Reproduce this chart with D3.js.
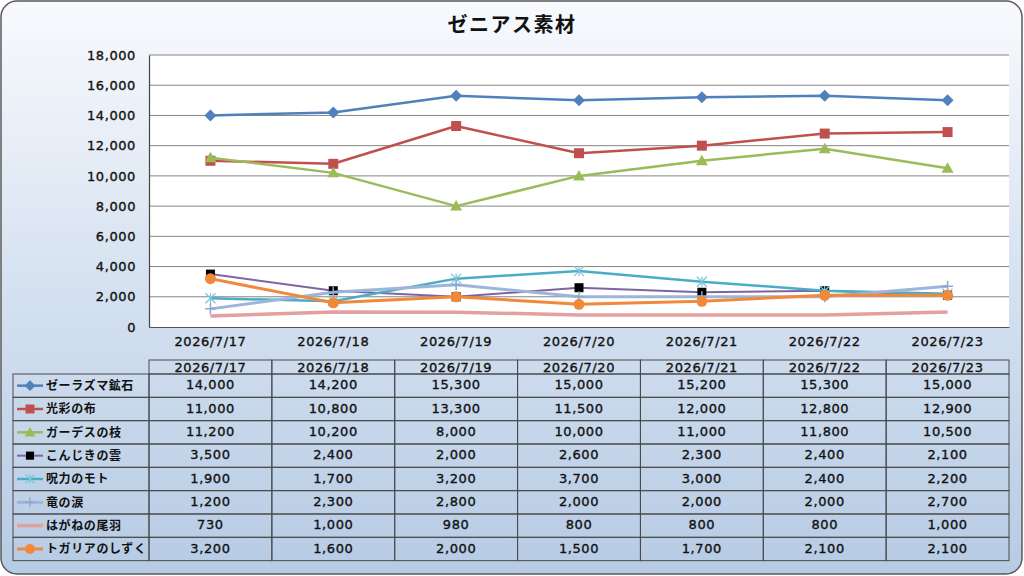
<!DOCTYPE html>
<html>
<head>
<meta charset="utf-8">
<script src="https://cdn.jsdelivr.net/npm/d3@7"></script>
<style>
  html, body { margin: 0; padding: 0; background: #ffffff; }
  svg { display: block; }
  .num { font-family: "DejaVu Sans", sans-serif; font-weight: normal; font-size: 13px; fill: #111; stroke: #111; stroke-width: 0.35px; letter-spacing: 0.6px; }
  .jp { font-family: "Noto Sans CJK JP", sans-serif; font-weight: bold; font-size: 12px; fill: #111; letter-spacing: 0.6px; }
</style>
</head>
<body>
<div id="chart"></div>
<script>
// data
const dates = ["2026/7/17", "2026/7/18", "2026/7/19", "2026/7/20", "2026/7/21", "2026/7/22", "2026/7/23"];
const seriesNames = ["ゼーラズマ鉱石", "光彩の布", "ガーデスの枝", "こんじきの雲", "呪力のモト", "竜の涙", "はがねの尾羽", "トガリアのしずく"];
const zeraOre   = [14000, 14200, 15300, 15000, 15200, 15300, 15000];
const kousaiCloth = [11000, 10800, 13300, 11500, 12000, 12800, 12900];
const gardesBranch = [11200, 10200, 8000, 10000, 11000, 11800, 10500];
const konjikiCloud = [3500, 2400, 2000, 2600, 2300, 2400, 2100];
const juryokuMoto = [1900, 1700, 3200, 3700, 3000, 2400, 2200];
const ryuTears = [1200, 2300, 2800, 2000, 2000, 2000, 2700];
const haganeFeather = [730, 1000, 980, 800, 800, 800, 1000];
const togariaDrop = [3200, 1600, 2000, 1500, 1700, 2100, 2100];
const yTicks = [0, 2000, 4000, 6000, 8000, 10000, 12000, 14000, 16000, 18000];

const seriesValues = [zeraOre, kousaiCloth, gardesBranch, konjikiCloud, juryokuMoto, ryuTears, haganeFeather, togariaDrop];

// styles per series
const styles = [
  { color: "#4f81bd", width: 2.5, marker: "diamond", mfill: "#4f81bd" },
  { color: "#c0504d", width: 2.5, marker: "square", mfill: "#c0504d" },
  { color: "#9bbb59", width: 2.5, marker: "triangle", mfill: "#9bbb59" },
  { color: "#8064a2", width: 2, marker: "blacksquare", mfill: "#000000" },
  { color: "#4bacc6", width: 2.5, marker: "asterisk", mfill: "#7fc6da" },
  { color: "#9db5d9", width: 3, marker: "plus", mfill: "#8ea9d2" },
  { color: "#e3a09e", width: 3.5, marker: "none", mfill: "none" },
  { color: "#f0893a", width: 3, marker: "circle", mfill: "#f0893a" }
];

const W = 1024, H = 576;
const plot = { left: 149, right: 1009, top: 55, bottom: 327 };

const svg = d3.select("#chart").append("svg")
  .attr("width", W).attr("height", H);

const defs = svg.append("defs");
const grad = defs.append("linearGradient")
  .attr("id", "bg").attr("x1", 0).attr("y1", 0).attr("x2", 0).attr("y2", 1);
grad.append("stop").attr("offset", "0%").attr("stop-color", "#f8fafd");
grad.append("stop").attr("offset", "55%").attr("stop-color", "#d2dfef");
grad.append("stop").attr("offset", "100%").attr("stop-color", "#b6cbe4");

svg.append("rect")
  .attr("x", 1).attr("y", 1).attr("width", 1021).attr("height", 573)
  .attr("rx", 16).attr("ry", 16)
  .attr("fill", "url(#bg)")
  .attr("stroke", "#5a5a5a").attr("stroke-width", 1.5);

// title
svg.append("text")
  .attr("x", 512).attr("y", 32)
  .attr("text-anchor", "middle")
  .style("font-family", "'Noto Sans CJK JP', sans-serif")
  .style("font-weight", "bold")
  .style("font-size", "20px")
  .style("letter-spacing", "1.5px")
  .attr("fill", "#111")
  .text("ゼニアス素材");

const x = d3.scaleBand().domain(dates).range([plot.left, plot.right]);
const y = d3.scaleLinear().domain([0, 18000]).range([plot.bottom, plot.top]);

// plot area
svg.append("rect")
  .attr("x", plot.left).attr("y", plot.top)
  .attr("width", plot.right - plot.left).attr("height", plot.bottom - plot.top)
  .attr("fill", "#ffffff");

svg.append("g")
  .selectAll("line")
  .data(yTicks.filter(d => d > 0))
  .join("line")
  .attr("x1", plot.left).attr("x2", plot.right)
  .attr("y1", d => y(d)).attr("y2", d => y(d))
  .attr("stroke", "#858585").attr("stroke-width", 1);

// y axis
const yAxis = svg.append("g")
  .attr("transform", `translate(${plot.left},0)`)
  .call(d3.axisLeft(y).tickValues(yTicks).tickFormat(d3.format(",")).tickSize(0).tickPadding(13));
yAxis.select(".domain").attr("stroke", "#444").attr("stroke-width", 1.2);
yAxis.selectAll("text").attr("class", "num").attr("fill", null);

// x axis
const xAxis = svg.append("g")
  .attr("transform", `translate(0,${plot.bottom})`)
  .call(d3.axisBottom(x).tickSize(0).tickPadding(10));
xAxis.select(".domain").attr("stroke", "#555").attr("stroke-width", 1.2);
xAxis.selectAll("text").attr("class", "num").attr("fill", null);

// marker drawing
function drawMarker(g, type, fill, size) {
  const s = size;
  if (type === "diamond") {
    g.append("path").attr("d", `M0,${-s * 0.6}L${s * 0.6},0L0,${s * 0.6}L${-s * 0.6},0Z`).attr("fill", fill);
  } else if (type === "square") {
    g.append("rect").attr("x", -s / 2).attr("y", -s / 2).attr("width", s).attr("height", s).attr("fill", fill);
  } else if (type === "blacksquare") {
    g.append("rect").attr("x", -s * 0.45).attr("y", -s * 0.45).attr("width", s * 0.9).attr("height", s * 0.9).attr("fill", fill);
  } else if (type === "triangle") {
    g.append("path").attr("d", `M0,${-s * 0.6}L${s * 0.6},${s * 0.45}L${-s * 0.6},${s * 0.45}Z`).attr("fill", fill);
  } else if (type === "circle") {
    g.append("circle").attr("r", s * 0.55).attr("fill", fill);
  } else if (type === "asterisk") {
    const r = s * 0.5;
    g.append("path")
      .attr("d", `M${-r},${-r}L${r},${r}M${-r},${r}L${r},${-r}M0,${-r}L0,${r}`)
      .attr("stroke", fill).attr("stroke-width", 1.3).attr("fill", "none");
  } else if (type === "plus") {
    const r = s * 0.55;
    g.append("path")
      .attr("d", `M${-r},0L${r},0M0,${-r}L0,${r}`)
      .attr("stroke", fill).attr("stroke-width", 1.5).attr("fill", "none");
  }
}

// lines
const line = d3.line()
  .x((d, i) => x(dates[i]) + x.bandwidth() / 2)
  .y(d => y(d));

seriesValues.forEach((vals, si) => {
  const st = styles[si];
  const g = svg.append("g");
  g.append("path")
    .datum(vals)
    .attr("d", line)
    .attr("fill", "none")
    .attr("stroke", st.color)
    .attr("stroke-width", st.width)
    .attr("stroke-linejoin", "round");
  if (st.marker !== "none") {
    vals.forEach((v, i) => {
      const m = g.append("g")
        .attr("transform", `translate(${x(dates[i]) + x.bandwidth() / 2},${y(v)})`);
      drawMarker(m, st.marker, st.mfill, 10);
    });
  }
});

// data table
const tableTop = 360, headH = 14, rowH = 23.33;
const legendLeft = 13;
const tbl = svg.append("g");
const border = "#4a4a4a";

// header cells
tbl.selectAll("rect.head")
  .data(dates)
  .join("rect")
  .attr("class", "head")
  .attr("x", d => x(d)).attr("y", tableTop)
  .attr("width", x.bandwidth()).attr("height", headH)
  .attr("fill", "none").attr("stroke", border).attr("stroke-width", 1);

tbl.selectAll("text.head")
  .data(dates)
  .join("text")
  .attr("class", "num head")
  .attr("x", d => x(d) + x.bandwidth() / 2)
  .attr("y", tableTop + 12)
  .attr("text-anchor", "middle")
  .text(d => d);

seriesNames.forEach((name, si) => {
  const ry = tableTop + headH + si * rowH;
  tbl.append("rect")
    .attr("x", legendLeft).attr("y", ry)
    .attr("width", plot.left - legendLeft).attr("height", rowH)
    .attr("fill", "none").attr("stroke", border).attr("stroke-width", 1);
  // legend key
  const st = styles[si];
  const cy = ry + rowH / 2;
  tbl.append("line")
    .attr("x1", 17).attr("x2", 43).attr("y1", cy).attr("y2", cy)
    .attr("stroke", st.color).attr("stroke-width", st.width);
  if (st.marker !== "none") {
    drawMarker(tbl.append("g").attr("transform", `translate(30,${cy})`), st.marker, st.mfill, 9);
  }
  tbl.append("text")
    .attr("class", "jp")
    .attr("x", 46).attr("y", cy)
    .attr("dy", "0.36em")
    .text(name);

  seriesValues[si].forEach((v, i) => {
    tbl.append("rect")
      .attr("x", x(dates[i])).attr("y", ry)
      .attr("width", x.bandwidth()).attr("height", rowH)
      .attr("fill", "none").attr("stroke", border).attr("stroke-width", 1);
    tbl.append("text")
      .attr("class", "num")
      .attr("x", x(dates[i]) + x.bandwidth() / 2)
      .attr("y", cy - 1)
      .attr("dy", "0.36em")
      .attr("text-anchor", "middle")
      .text(d3.format(",")(v));
  });
});
</script>
</body>
</html>
